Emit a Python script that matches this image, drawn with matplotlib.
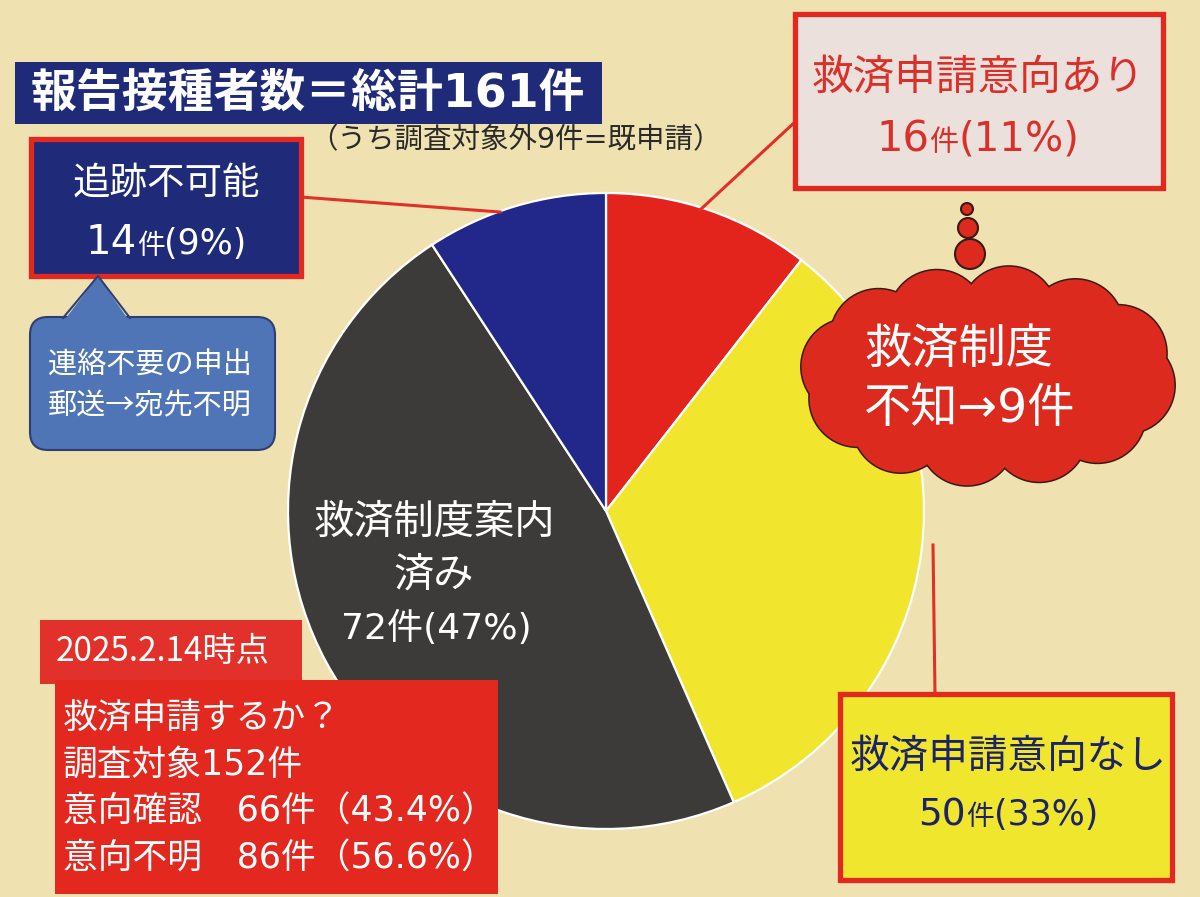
import matplotlib
matplotlib.use('Agg')
import matplotlib.pyplot as plt
from matplotlib.patches import FancyBboxPatch, Rectangle, Circle, Polygon, Ellipse
import numpy as np

JP = ['Noto Sans CJK JP', 'DejaVu Sans']
LAT = ['DejaVu Sans', 'Noto Sans CJK JP']
plt.rcParams['font.family'] = JP

# ---- data ----
categories = ['救済申請意向あり', '救済申請意向なし', '救済制度案内済み', '追跡不可能']
counts = [16, 50, 72, 14]
percents = [11, 33, 47, 9]
slice_colors = ['#e3241d', '#f1e52e', '#3c3b39', '#21288a']

total_reported = 161
excluded_applied = 9
surveyed = 152
confirmed, confirmed_pct = 66, 43.4
unknown, unknown_pct = 86, 56.6
unaware_count = 9
date_label = '2025.2.14時点'

BG = '#f0e1b1'
NAVY = '#1f2a78'
RED = '#e2281f'
LINE_RED = '#e0302a'

W, H = 1200, 897
fig = plt.figure(figsize=(12, 8.97), dpi=100)
fig.patch.set_facecolor(BG)
ax = fig.add_axes([0, 0, 1, 1])
ax.set_facecolor(BG)

ax.pie(counts, colors=slice_colors, startangle=-90, counterclock=True,
       center=(606, 511), radius=318,
       wedgeprops=dict(edgecolor='white', linewidth=1.6))
ax.set_xlim(0, W)
ax.set_ylim(H, 0)
ax.set_aspect('equal')
ax.axis('off')

renderer = fig.canvas.get_renderer()

def rich_text(x, y, pieces, color, family=LAT, z=4):
    """pieces: list of (string, fontsize); drawn left to right, centred at x."""
    objs = []
    widths = []
    for s, fs in pieces:
        t = ax.text(0, y, s, color=color, fontsize=fs, family=family,
                    ha='left', va='baseline', zorder=z)
        bb = t.get_window_extent(renderer=renderer)
        objs.append(t)
        widths.append(bb.width)
    total = sum(widths)
    cur = x - total / 2
    for t, w in zip(objs, widths):
        t.set_x(cur)
        cur += w

def box(x, y, w, h, fc, ec=None, lw=0, z=3):
    ax.add_patch(Rectangle((x, y), w, h, facecolor=fc, edgecolor=ec if ec else fc,
                           linewidth=lw, zorder=z))

# ---- title ----
box(15, 62, 587, 62, NAVY)
ax.text(308, 94, f'報告接種者数＝総計{total_reported}件', color='white', fontsize=33,
        fontweight='bold', family=LAT, ha='center', va='center', zorder=4)
ax.text(515, 140, f'（うち調査対象外{excluded_applied}件=既申請）', color='#2a2a2a',
        fontsize=20.5, family=LAT, ha='center', va='center', zorder=4)

# ---- 追跡不可能 box ----
ax.plot([300, 500], [197, 212], color=LINE_RED, lw=2.2, zorder=2)
box(31, 139, 270, 137, NAVY, RED, 3.8)
ax.text(166, 183, categories[3], color='white', fontsize=27, ha='center', va='center', zorder=4)
rich_text(166, 254, [(f'{counts[3]}', 29), ('件', 20), (f'({percents[3]}%)', 25)], 'white')

# speech bubble
BUB = '#5075b6'
BUB_E = '#2c3f74'
ax.add_patch(FancyBboxPatch((30, 317), 245, 133, boxstyle='round,pad=0,rounding_size=18',
                            facecolor=BUB, edgecolor=BUB_E, linewidth=1.5, zorder=3))
ax.add_patch(Polygon([(63, 322), (98, 276), (130, 322)], closed=True, facecolor=BUB,
                     edgecolor='none', zorder=3.5))
ax.plot([63, 98, 130], [318, 276, 318], color=BUB_E, lw=1.5, zorder=3.6)
ax.text(150, 366, '連絡不要の申出', color='white', fontsize=21, ha='center', va='center', zorder=4)
ax.text(150, 406, '郵送→宛先不明', color='white', fontsize=21, ha='center', va='center', zorder=4)

# ---- 救済申請意向あり box ----
ax.plot([795, 700], [122, 210], color=LINE_RED, lw=2.2, zorder=2)
box(795, 14, 368, 174, '#ebe0dc', RED, 3.8)
ax.text(978, 78, categories[0], color='#d9302a', fontsize=30, ha='center', va='center', zorder=4)
rich_text(978, 151, [(f'{counts[0]}', 30), ('件', 21), (f'({percents[0]}%)', 29)], '#d9302a')

# thought bubbles
for (cx, cy, r) in [(967, 209, 6), (968, 228, 10), (970, 254, 15)]:
    ax.add_patch(Circle((cx, cy), r, facecolor='#dc2a1e', edgecolor='#3a1a14', lw=1.5, zorder=3))

# cloud
CLOUD = '#dc2a1e'
ts = np.linspace(0, 2 * np.pi, 12, endpoint=False) + 0.15
bumps = [(988 + 140 * np.cos(t), 376 + 62 * np.sin(t), 48) for t in ts]
for cx, cy, r in bumps:
    ax.add_patch(Circle((cx, cy), r, facecolor=CLOUD, edgecolor='#3a1a14', lw=2.2, zorder=3))
for cx, cy, r in bumps:
    ax.add_patch(Circle((cx, cy), r, facecolor=CLOUD, edgecolor='none', zorder=3.2))
ax.add_patch(Ellipse((988, 376), 300, 150, facecolor=CLOUD, edgecolor='none', zorder=3.3))
ax.text(864, 350, '救済制度', color='white', fontsize=34, ha='left', va='center', zorder=4)
ax.text(864, 410, f'不知→{unaware_count}件', color='white', fontsize=34, family=LAT,
        ha='left', va='center', zorder=4)

# ---- gray slice label ----
ax.text(434, 522, '救済制度案内', color='white', fontsize=29, ha='center', va='center', zorder=4)
ax.text(434, 575, '済み', color='white', fontsize=29, ha='center', va='center', zorder=4)
ax.text(436, 628, f'{counts[2]}件({percents[2]}%)', color='white', fontsize=26, family=LAT,
        ha='center', va='center', zorder=4)

# ---- 救済申請意向なし box ----
ax.plot([933, 935], [545, 694], color=LINE_RED, lw=2.2, zorder=2)
box(840, 694, 332, 186, '#f1e62e', RED, 3.8)
ax.text(1008, 757, categories[1], color='#1c2366', fontsize=28.5, ha='center', va='center', zorder=4)
rich_text(1008, 825, [(f'{counts[1]}', 27), ('件', 20), (f'({percents[1]}%)', 25)], '#1c2366')

# ---- date & survey boxes ----
box(40, 620, 262, 64, '#e2302a')
ax.text(56, 652, date_label, color='white', fontsize=24, ha='left', va='center', zorder=4)
box(55, 680, 443, 214, RED)
lines = ['救済申請するか？',
         f'調査対象{surveyed}件',
         f'意向確認　{confirmed}件（{confirmed_pct}%）',
         f'意向不明　{unknown}件（{unknown_pct}%）']
for i, s in enumerate(lines):
    ax.text(63, 718 + i * 47, s, color='white', fontsize=25, family=LAT if i else JP,
            ha='left', va='center', zorder=4)

fig.savefig('out.png', dpi=100, facecolor=BG)
